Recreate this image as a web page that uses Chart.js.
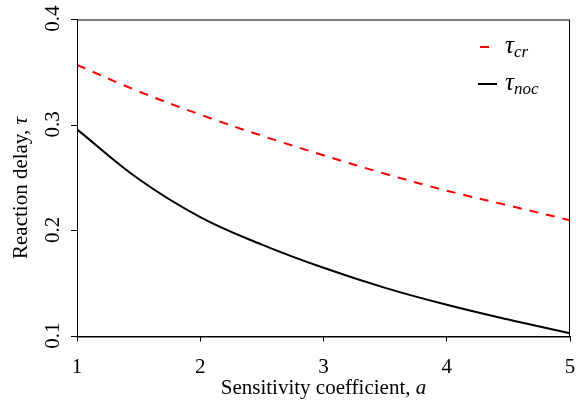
<!DOCTYPE html>
<html>
<head>
<meta charset="utf-8">
<script src="https://cdn.jsdelivr.net/npm/chart.js@4.4.0/dist/chart.umd.min.js"></script>
<style>
  html, body { margin: 0; padding: 0; background: #fff; }
  #wrap { width: 576px; height: 409px; }
</style>
</head>
<body>
<div id="wrap"><canvas id="delayChart"></canvas></div>
<script>
// sensitivity coefficient a
const aValues = [1, 1.5, 2, 2.5, 3, 3.5, 4, 4.5, 5];
// critical delay (red dashed)
const tauCr = [0.357, 0.332, 0.310, 0.290, 0.2715, 0.254, 0.238, 0.224, 0.210];
// delay without oscillation (black)
const tauNoc = [0.296, 0.249, 0.213, 0.187, 0.165, 0.146, 0.130, 0.116, 0.103];
const xTicks = [1, 2, 3, 4, 5];
const yTicks = [0.1, 0.2, 0.3, 0.4];

const serif = '"Liberation Serif", "DejaVu Serif", serif';

const toPoints = (ys) => ys.map((y, i) => ({ x: aValues[i], y: y }));

// draws a run of [text, font] pieces starting at x
function drawRun(ctx, parts, x, y) {
    parts.forEach(p => {
        ctx.font = p[1];
        ctx.fillText(p[0], x, y + (p[2] || 0));
        x += ctx.measureText(p[0]).width;
    });
}
function runWidth(ctx, parts) {
    let w = 0;
    parts.forEach(p => { ctx.font = p[1]; w += ctx.measureText(p[0]).width; });
    return w;
}

// frame, axis titles (with italic letters) and legend
const framePlugin = {
    id: 'frame',
    afterDraw(chart) {
        const { ctx, chartArea } = chart;
        ctx.save();
        ctx.strokeStyle = '#000';
        ctx.lineWidth = 1;
        ctx.strokeRect(chartArea.left + 0.5, chartArea.top + 0.5,
            chartArea.right - chartArea.left - 1, chartArea.bottom - chartArea.top);

        ctx.fillStyle = '#000';
        ctx.textBaseline = 'alphabetic';

        // x title
        const xParts = [['Sensitivity coefficient, ', '21px ' + serif], ['a', 'italic 21px ' + serif]];
        const xw = runWidth(ctx, xParts);
        drawRun(ctx, xParts, (chartArea.left + chartArea.right) / 2 - xw / 2, 394);

        // y title, rotated
        const yParts = [['Reaction delay, ', '21px ' + serif], ['τ', 'italic 21px ' + serif]];
        const yw = runWidth(ctx, yParts);
        ctx.save();
        ctx.translate(27, 188);
        ctx.rotate(-Math.PI / 2);
        drawRun(ctx, yParts, -yw / 2, 0);
        ctx.restore();

        // legend
        const items = [
            { sub: 'cr', color: '#ff0000', x0: 480, x1: 489, y: 47 },
            { sub: 'noc', color: '#000', x0: 478, x1: 497, y: 84 }
        ];
        items.forEach(it => {
            ctx.beginPath();
            ctx.strokeStyle = it.color;
            ctx.lineWidth = 2;
            ctx.moveTo(it.x0, it.y);
            ctx.lineTo(it.x1, it.y);
            ctx.stroke();
            ctx.fillStyle = '#000';
            drawRun(ctx, [['τ', 'italic 25px ' + serif], [it.sub, 'italic 17px ' + serif, 4]], 505, it.y + 6);
        });
        ctx.restore();
    }
};

new Chart(document.getElementById('delayChart'), {
    type: 'line',
    data: {
        datasets: [{
            label: 'τcr',
            data: toPoints(tauCr),
            borderColor: '#ff0000',
            borderWidth: 2,
            borderDash: [9, 8],
            pointRadius: 0,
            tension: 0.4,
            fill: false
        }, {
            label: 'τnoc',
            data: toPoints(tauNoc),
            borderColor: '#000',
            borderWidth: 2,
            pointRadius: 0,
            tension: 0.4,
            fill: false
        }]
    },
    options: {
        responsive: true,
        maintainAspectRatio: false,
        animation: false,
        layout: { padding: { top: 19.5, right: 6, left: 0, bottom: 0 } },
        plugins: {
            legend: { display: false },
            tooltip: { enabled: false }
        },
        scales: {
            x: {
                type: 'linear',
                min: 1,
                max: 5,
                afterBuildTicks: (s) => { s.ticks = xTicks.map(v => ({ value: v })); },
                afterFit: (s) => { s.height = 72.5; s.paddingLeft = 0; s.paddingRight = 0; },
                ticks: {
                    color: '#000',
                    font: { family: serif, size: 21 },
                    padding: 13,
                    maxRotation: 0
                },
                grid: { drawOnChartArea: false, drawTicks: true, tickLength: 5, color: '#000' },
                border: { color: '#000', width: 1 }
            },
            y: {
                min: 0.1,
                max: 0.4,
                afterBuildTicks: (s) => { s.ticks = yTicks.map(v => ({ value: v })); },
                afterFit: (s) => { s.width = 77; s.paddingTop = 0; s.paddingBottom = 0; },
                ticks: {
                    color: '#000',
                    font: { family: serif, size: 21 },
                    padding: 18,
                    minRotation: 90,
                    maxRotation: 90,
                    labelOffset: -14,
                    callback: (v) => v.toFixed(1)
                },
                grid: { drawOnChartArea: false, drawTicks: true, tickLength: 6, color: '#000' },
                border: { color: '#000', width: 1 }
            }
        }
    },
    plugins: [framePlugin]
});
</script>
</body>
</html>
